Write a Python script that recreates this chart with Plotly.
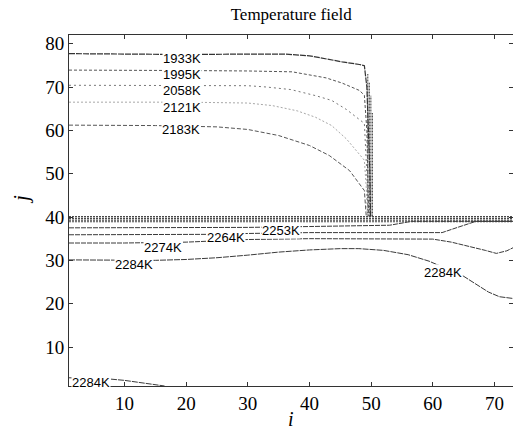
import plotly.graph_objects as go

# ---------------- data ----------------
levels = ["1933K", "1995K", "2058K", "2121K", "2183K", "2253K", "2264K", "2274K", "2284K", "2284K", "2284K"]

# upper region contours (i, j)
c1933_i = [1, 10, 20, 30, 36, 40, 42.7, 45.3, 48.1, 48.9, 49.3, 49.6, 49.8, 49.9]
c1933_j = [77.7, 77.6, 77.5, 77.6, 77.6, 77.2, 76.4, 75.8, 75.2, 74.9, 70, 60, 50, 40.2]
c1995_i = [1, 10, 20, 30, 37.2, 42.7, 45.3, 48.1, 48.9, 49.3, 49.5, 49.6]
c1995_j = [73.9, 73.9, 73.8, 73.7, 73.5, 72.1, 70.9, 69.2, 68.1, 60, 50, 40.2]
c2058_i = [1, 20, 30, 33, 37, 41, 43.6, 46, 48.9, 49.3, 49.5]
c2058_j = [70.4, 70.4, 70.3, 70.0, 69.4, 68.0, 66.9, 64.8, 61.6, 50, 40.2]
c2121_i = [1, 20, 30, 34, 38, 41, 43.6, 46, 48.9, 49.2, 49.4]
c2121_j = [66.5, 66.5, 66.3, 65.7, 64.5, 63.0, 61.1, 58.0, 53.1, 47, 40.2]
c2183_i = [1, 15, 25, 30, 35, 40, 43.2, 46.5, 48.9, 49.2]
c2183_j = [61.2, 61.1, 60.8, 60.2, 58.8, 56.5, 54.2, 50.7, 46.1, 40.2]

# dense wall contours (horizontal band and vertical band)
wall_h_j = [38.9, 39.3, 39.7, 40.1]
wall_h_i = [1, 73]
wall_v_i = [49.45, 49.7, 49.95, 50.2]
wall_v_top = [73, 71, 68, 64]

# lower region contours
c2253_i = [1, 20, 30, 40, 50, 53, 55, 56.5, 73]
c2253_j = [37.5, 37.5, 37.6, 37.8, 38.0, 38.1, 38.6, 39.0, 39.0]
c2264_i = [1, 15, 25, 30, 40, 50, 61.5, 64, 67, 73]
c2264_j = [35.9, 35.9, 36.0, 36.2, 36.4, 36.4, 36.4, 37.6, 39.0, 39.0]
c2274_i = [1, 10, 20, 25, 30, 40, 50, 56, 60, 63, 66.4, 68.5, 70.3, 72, 73]
c2274_j = [34.0, 34.0, 34.2, 34.5, 34.8, 35.0, 35.0, 35.0, 34.9, 34.2, 33.1, 32.3, 31.6, 32.2, 32.9]
c2284_i = [1, 10, 15, 20, 25, 30, 35, 40, 45, 48, 52, 56, 59.4, 62, 64.8, 67, 69, 70.8, 73]
c2284_j = [30.1, 30.0, 30.0, 30.2, 30.6, 31.2, 31.9, 32.4, 32.7, 32.7, 32.3, 31.3, 29.8, 28.2, 26.5, 24.5, 22.7, 21.6, 21.2]
c2284b_i = [1, 4, 7.7, 10, 13, 16.5]
c2284b_j = [2.9, 2.8, 2.6, 2.3, 1.7, 1.0]

# contour label positions (i, j)
label_i = [19.4, 19.4, 19.3, 19.3, 19.2, 35.3, 26.4, 16.3, 11.5, 61.6, 4.6]
label_j = [76.5, 73.0, 69.2, 65.3, 60.2, 36.9, 35.3, 32.9, 29.1, 27.1, 1.8]

x_ticks = [10, 20, 30, 40, 50, 60, 70]
y_ticks = [10, 20, 30, 40, 50, 60, 70, 80]

# ---------------- figure ----------------
fig = go.Figure()

def add_line(xs, ys, color, dash, width=1.0):
    fig.add_trace(go.Scatter(x=xs, y=ys, mode="lines", showlegend=False,
                             hoverinfo="skip",
                             line=dict(color=color, width=width, dash=dash)))

# horizontal wall band
for jj in wall_h_j:
    add_line(wall_h_i, [jj, jj], "#4a4a4a", "2px,1px", 1.2)
# vertical wall band
for ii, top in zip(wall_v_i, wall_v_top):
    add_line([ii, ii], [40.1, top], "#4a4a4a", "2px,1px", 1.1)

add_line(c1933_i, c1933_j, "#333333", "6px,1px", 1.2)
add_line(c1995_i, c1995_j, "#555555", "3px,2px", 1.0)
add_line(c2058_i, c2058_j, "#777777", "2px,3px", 1.0)
add_line(c2121_i, c2121_j, "#a8a8a8", "2px,2px", 1.0)
add_line(c2183_i, c2183_j, "#555555", "4px,2px", 1.0)

add_line(c2253_i, c2253_j, "#3a3a3a", "5px,1px", 1.0)
add_line(c2264_i, c2264_j, "#3a3a3a", "5px,1px", 1.0)
add_line(c2274_i, c2274_j, "#3a3a3a", "5px,1px", 1.0)
add_line(c2284_i, c2284_j, "#3a3a3a", "6px,1px", 1.0)
add_line(c2284b_i, c2284b_j, "#3a3a3a", "6px,1px", 1.0)

for txt, xi, yj in zip(levels, label_i, label_j):
    fig.add_annotation(x=xi, y=yj, text=txt, showarrow=False,
                       font=dict(family="Liberation Sans, Arial", size=13, color="black"),
                       bgcolor="white", borderpad=0, xanchor="center", yanchor="middle")

serif = "Liberation Serif, Times New Roman, serif"

fig.add_annotation(x=0.5, y=-0.094, xref="paper", yref="paper", text="<i>i</i>",
                   showarrow=False, font=dict(family=serif, size=20, color="black"),
                   xanchor="center", yanchor="middle")
fig.add_annotation(x=-0.108, y=0.53, xref="paper", yref="paper", text="<i>j</i>",
                   showarrow=False, textangle=-90,
                   font=dict(family=serif, size=21, color="black"),
                   xanchor="center", yanchor="middle")

fig.update_layout(
    width=513, height=432,
    margin=dict(l=69, r=0, t=35, b=46),
    paper_bgcolor="white", plot_bgcolor="white",
    title=dict(text="Temperature field", x=0.5676, xanchor="center",
               y=0.968, yanchor="middle",
               font=dict(family=serif, size=17, color="black")),
    xaxis=dict(range=[1, 73], tickvals=x_ticks, ticks="inside", ticklen=4,
               tickcolor="#333", showline=True, linecolor="#333", linewidth=1,
               mirror="ticks", showgrid=False, zeroline=False,
               tickfont=dict(family=serif, size=19, color="black")),
    yaxis=dict(range=[1, 82], tickvals=y_ticks, ticks="inside", ticklen=4,
               tickcolor="#333", showline=True, linecolor="#333", linewidth=1,
               mirror="ticks", showgrid=False, zeroline=False,
               tickfont=dict(family=serif, size=19, color="black")),
)

fig.write_html("out.html", config={"displayModeBar": False},
               post_script="document.body.style.margin='0px';document.body.style.overflow='hidden';")
